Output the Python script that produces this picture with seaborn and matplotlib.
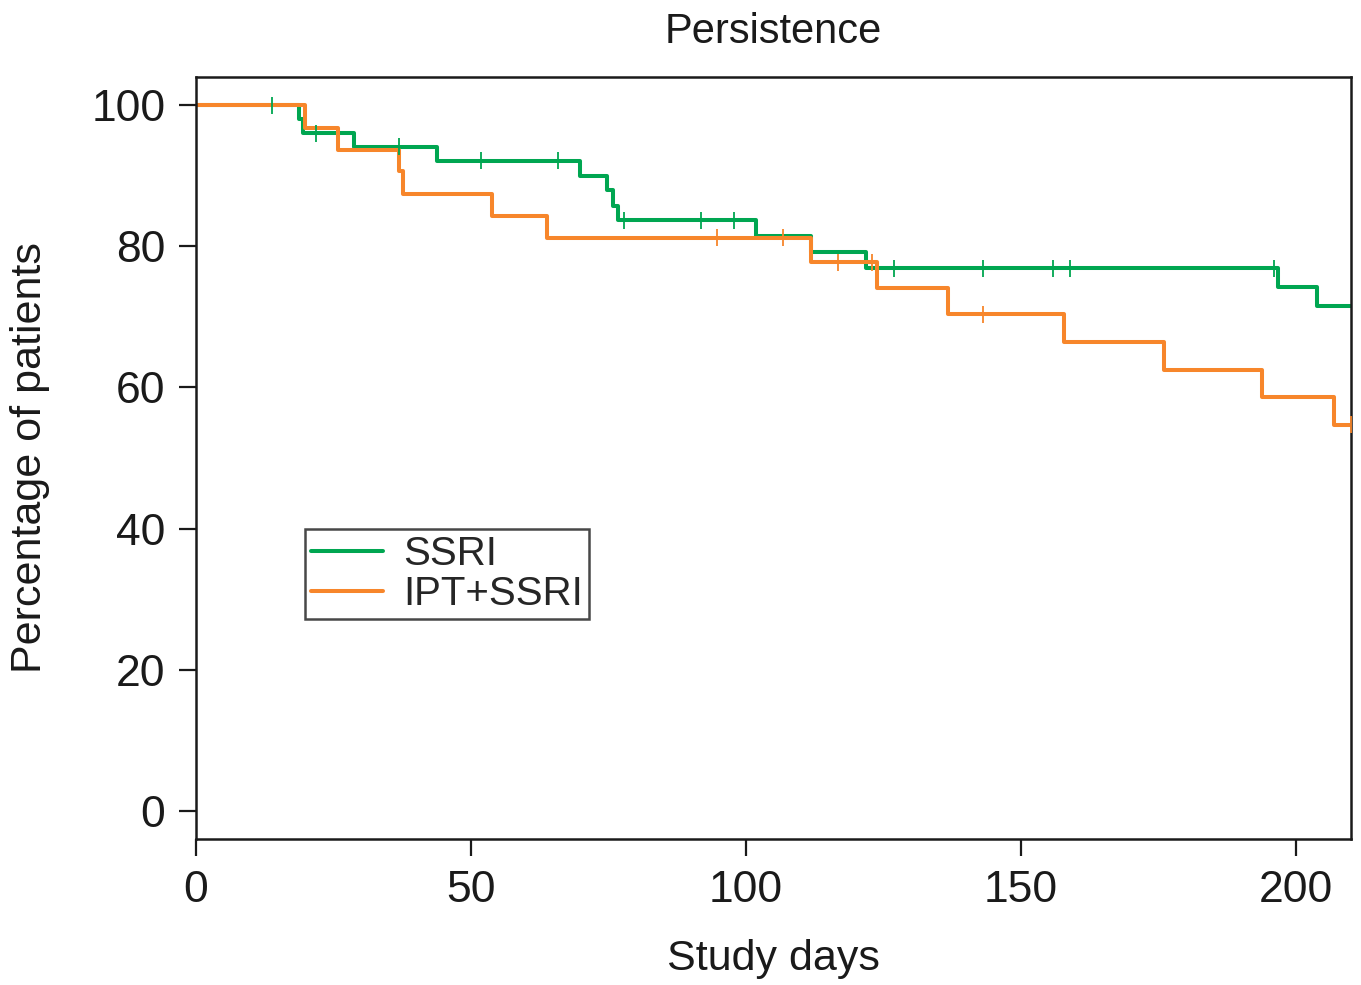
import matplotlib
matplotlib.use("Agg")
import matplotlib.pyplot as plt
import seaborn as sns
import pandas as pd

# -----------------------------
# DATA
# -----------------------------
ssri_days = [0, 18.8, 19.5, 28.7, 43.9, 69.8, 74.8, 75.9, 76.8, 101.8, 111.9, 121.9, 196.8, 203.8, 210]
ssri_pct = [100, 98.0, 96.0, 94.1, 92.1, 89.9, 88.0, 85.7, 83.7, 81.5, 79.2, 76.9, 74.2, 71.5, 71.5]
ssri_cens_days = [13.9, 21.8, 37.0, 51.9, 65.9, 77.8, 91.8, 97.9, 126.9, 143.0, 155.9, 158.9, 196.0]
ssri_cens_pct = [100, 96.0, 94.1, 92.1, 92.1, 83.7, 83.7, 83.7, 76.9, 76.9, 76.9, 76.9, 76.9]

ipt_days = [0, 19.8, 25.9, 37.0, 37.7, 53.9, 63.9, 111.8, 123.8, 136.8, 157.8, 175.9, 193.8, 206.9, 210]
ipt_pct = [100, 96.8, 93.6, 90.6, 87.4, 84.3, 81.2, 77.7, 74.1, 70.4, 66.4, 62.5, 58.7, 54.7, 54.7]
ipt_cens_days = [94.8, 106.8, 116.8, 122.9, 143.0, 210]
ipt_cens_pct = [81.2, 81.2, 77.7, 77.7, 70.4, 54.7]

GROUPS = ["SSRI", "IPT+SSRI"]
COLORS = {"SSRI": "#00a651", "IPT+SSRI": "#f7862b"}

curves = pd.concat([
    pd.DataFrame({"day": ssri_days, "pct": ssri_pct, "group": "SSRI"}),
    pd.DataFrame({"day": ipt_days, "pct": ipt_pct, "group": "IPT+SSRI"}),
])
censored = pd.concat([
    pd.DataFrame({"day": ssri_cens_days, "pct": ssri_cens_pct, "group": "SSRI"}),
    pd.DataFrame({"day": ipt_cens_days, "pct": ipt_cens_pct, "group": "IPT+SSRI"}),
])

# -----------------------------
# PLOT
# -----------------------------
sns.set_style("white")
plt.rcParams["font.family"] = ["Liberation Sans", "DejaVu Sans"]
INK = "#1a1a1a"

fig = plt.figure(figsize=(13.61, 9.85), dpi=100)
ax = fig.add_axes([0.144, 0.148, 0.8487, 0.774])

sns.lineplot(data=curves, x="day", y="pct", hue="group", hue_order=GROUPS,
             palette=COLORS, drawstyle="steps-post", linewidth=2.9,
             estimator=None, sort=False, ax=ax)
sns.scatterplot(data=censored, x="day", y="pct", hue="group", hue_order=GROUPS,
                palette=COLORS, marker="|", s=150, linewidth=1.3,
                legend=False, ax=ax, clip_on=False, zorder=3)

ax.set_xlim(0, 210)
ax.set_ylim(-4, 104)
ax.set_xticks([0, 50, 100, 150, 200])
ax.set_yticks([0, 20, 40, 60, 80, 100])
ax.tick_params(axis="both", direction="out", length=12, width=1.6,
               labelsize=32, colors=INK, labelcolor=INK)
ax.tick_params(axis="x", bottom=True, pad=10)
ax.tick_params(axis="y", left=True, pad=10)
for s in ax.spines.values():
    s.set_linewidth(1.8)
    s.set_color(INK)

ax.set_xlabel("Study days", fontsize=31, labelpad=20, color=INK)
ax.set_ylabel("Percentage of patients", fontsize=31, labelpad=30, color=INK)
ax.set_title("Persistence", fontsize=30, pad=24, color=INK)

leg = ax.legend(loc="upper left", bbox_to_anchor=(0.094, 0.407), fontsize=29,
                frameon=True, fancybox=False, edgecolor=INK,
                handlelength=1.8, borderpad=0.15, labelspacing=0.05,
                handletextpad=0.5, borderaxespad=0)
leg.get_frame().set_linewidth(1.8)
for line in leg.get_lines():
    line.set_linewidth(2.9)

fig.savefig("out.png", dpi=100)
